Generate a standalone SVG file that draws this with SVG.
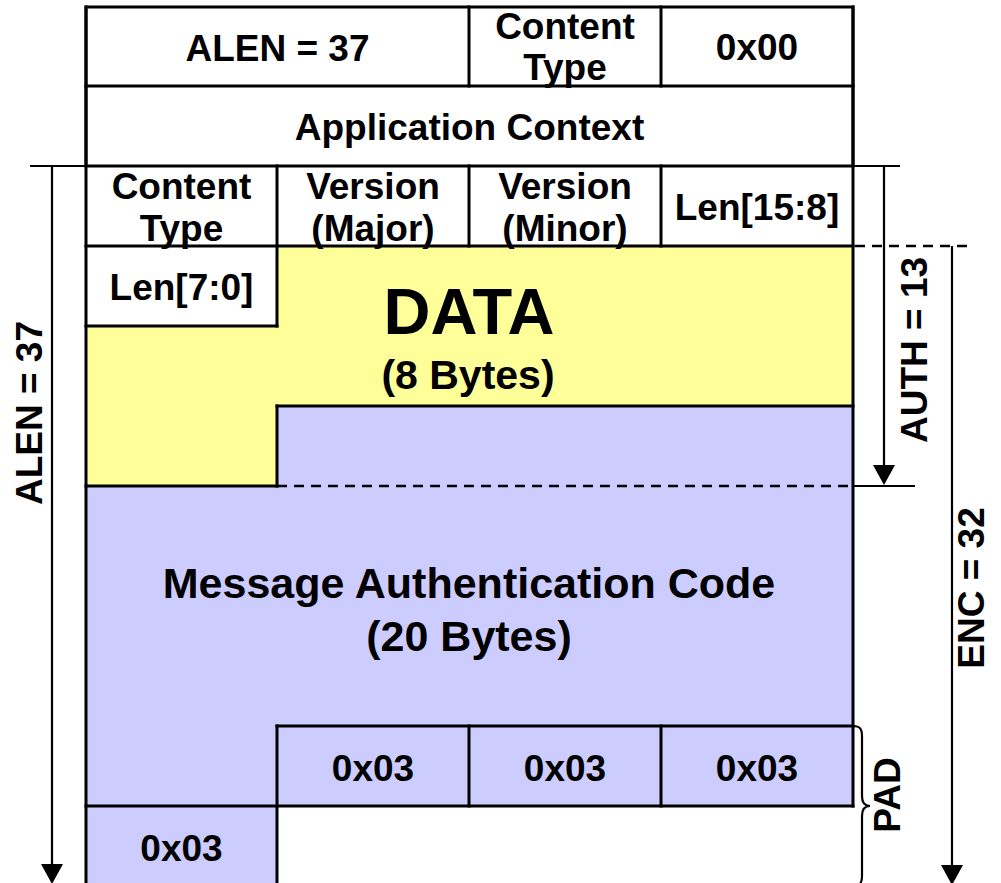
<svg xmlns="http://www.w3.org/2000/svg" width="1001" height="883" viewBox="0 0 1001 883">
  <style>
    .t { font-family: "Liberation Sans", Arial, sans-serif; font-weight: bold; font-size: 37px; fill: #000; text-anchor: middle; }
    .big { font-size: 65px; }
    .mid { font-size: 41px; }
    .mac { font-size: 43px; }
    .box { fill: none; stroke: #000; stroke-width: 3; stroke-linecap: square; }
    .wire { fill: none; stroke: #000; stroke-width: 2.2; }
    .dash { fill: none; stroke: #000; stroke-width: 2.5; stroke-dasharray: 10 7; }
    .yellow { fill: #FFFF99; }
    .blue { fill: #CCCCFF; }
  </style>
  <defs>
    <marker id="head" markerUnits="userSpaceOnUse" markerWidth="22" markerHeight="22" refX="18" refY="11" orient="auto">
      <path d="M0,0 L20,11 L0,22 Z" fill="#000"/>
    </marker>
  </defs>

  <rect width="1001" height="883" fill="#fff"/>

  <!-- record header: ALEN / content type / 0x00 and application context -->
  <g id="header">
    <rect class="box" x="86" y="7" width="767" height="159"/>
    <line class="box" x1="86" y1="86" x2="853" y2="86"/>
    <line class="box" x1="469" y1="7" x2="469" y2="86"/>
    <line class="box" x1="661" y1="7" x2="661" y2="86"/>
    <text class="t" x="277.5" y="61">ALEN = 37</text>
    <text class="t" x="565" y="39">Content</text>
    <text class="t" x="565" y="80">Type</text>
    <text class="t" x="757" y="60">0x00</text>
    <text class="t" x="469.5" y="140">Application Context</text>
  </g>

  <!-- payload fills -->
  <g id="data">
    <path class="yellow" d="M277,246 H853 V406 H277 V486 H86 V326 H277 Z"/>
    <text class="t big" x="469" y="334">DATA</text>
    <text class="t mid" x="468" y="389">(8 Bytes)</text>
  </g>
  <g id="mac">
    <path class="blue" d="M277,406 H853 V806 H277 V883 H86 V486 H277 Z"/>
    <text class="t mac" x="469" y="598">Message Authentication Code</text>
    <text class="t mac" x="469" y="651">(20 Bytes)</text>
  </g>

  <!-- TLS record header fields -->
  <g id="record-header">
    <line class="box" x1="86" y1="246" x2="853" y2="246"/>
    <line class="box" x1="277" y1="166" x2="277" y2="326"/>
    <line class="box" x1="469" y1="166" x2="469" y2="246"/>
    <line class="box" x1="661" y1="166" x2="661" y2="246"/>
    <line class="box" x1="86" y1="326" x2="277" y2="326"/>
    <text class="t" x="181.5" y="199">Content</text>
    <text class="t" x="181.5" y="241">Type</text>
    <text class="t" x="373" y="199">Version</text>
    <text class="t" x="373" y="241">(Major)</text>
    <text class="t" x="565" y="199">Version</text>
    <text class="t" x="565" y="241">(Minor)</text>
    <text class="t" x="757" y="220">Len[15:8]</text>
    <text class="t" x="181.5" y="300">Len[7:0]</text>
  </g>

  <!-- outline between data and MAC -->
  <g id="frame">
    <line class="box" x1="86" y1="7" x2="86" y2="890"/>
    <line class="box" x1="853" y1="7" x2="853" y2="806"/>
    <line class="box" x1="277" y1="406" x2="853" y2="406"/>
    <line class="box" x1="277" y1="406" x2="277" y2="486"/>
    <line class="box" x1="86" y1="486" x2="277" y2="486"/>
  </g>

  <!-- padding bytes -->
  <g id="padding">
    <line class="box" x1="277" y1="726" x2="853" y2="726"/>
    <line class="box" x1="86" y1="806" x2="853" y2="806"/>
    <line class="box" x1="277" y1="726" x2="277" y2="890"/>
    <line class="box" x1="469" y1="726" x2="469" y2="806"/>
    <line class="box" x1="661" y1="726" x2="661" y2="806"/>
    <text class="t" x="373" y="781">0x03</text>
    <text class="t" x="565" y="781">0x03</text>
    <text class="t" x="757" y="781">0x03</text>
    <text class="t" x="181.5" y="861">0x03</text>
  </g>

  <!-- length annotations -->
  <g id="connectors">
    <line class="wire" x1="30" y1="166" x2="900" y2="166"/>
    <line class="dash" x1="277" y1="486" x2="853" y2="486"/>
    <line class="wire" x1="853" y1="486" x2="915" y2="486"/>
    <line class="dash" x1="855" y1="246" x2="972" y2="246"/>
    <line class="wire" x1="52" y1="166" x2="52" y2="882" marker-end="url(#head)"/>
    <line class="wire" x1="884" y1="166" x2="884" y2="483" marker-end="url(#head)"/>
    <line class="wire" x1="952" y1="246" x2="952" y2="883" marker-end="url(#head)"/>
    <path class="wire" d="M853,726 C860,726 862,729 862,736 L862,796 C862,803 865,806 870,806 C865,806 862,809 862,816 L862,876 C862,883 860,886 853,886"/>
  </g>

  <g id="labels">
    <text class="t" transform="translate(42,413) rotate(-90)">ALEN = 37</text>
    <text class="t" transform="translate(927,350) rotate(-90)">AUTH = 13</text>
    <text class="t" transform="translate(984,588) rotate(-90)">ENC = 32</text>
    <text class="t" transform="translate(900,795) rotate(-90)">PAD</text>
  </g>
</svg>
